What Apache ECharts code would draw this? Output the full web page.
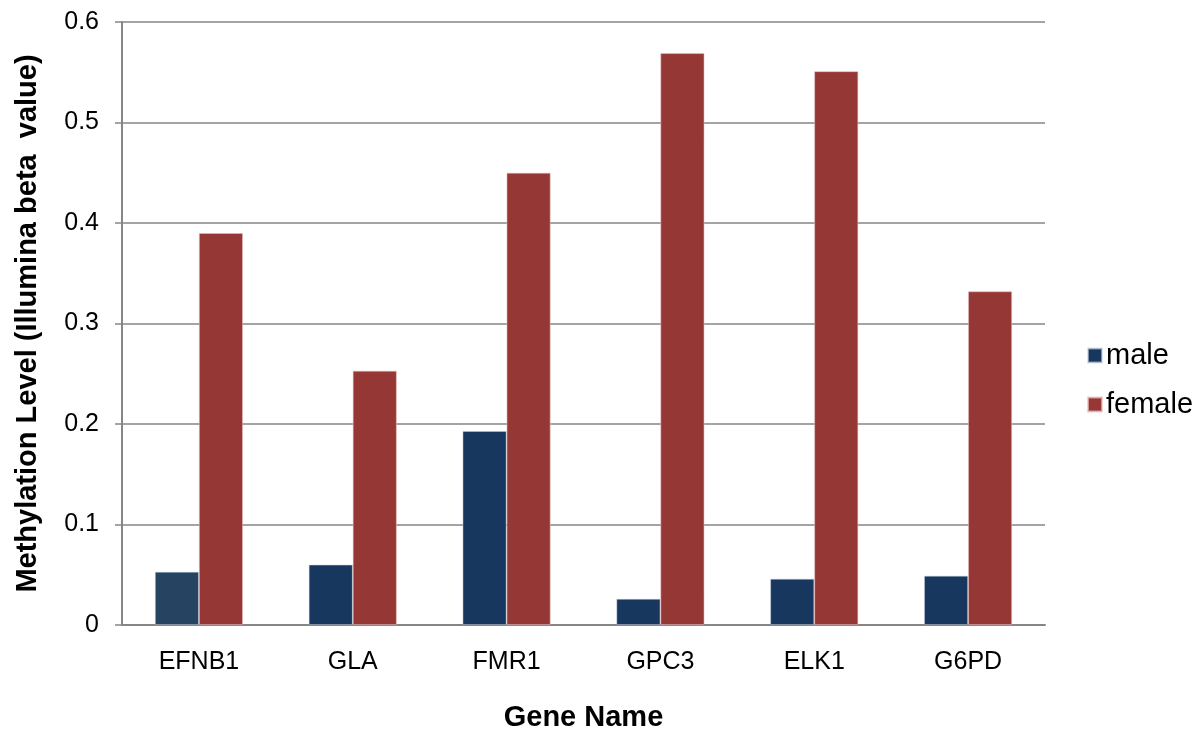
<!DOCTYPE html>
<html>
<head>
<meta charset="utf-8">
<script src="https://cdn.jsdelivr.net/npm/echarts@6/dist/echarts.min.js"></script>
<style>
  html, body { margin: 0; padding: 0; background: #fff; }
  #chart { width: 1203px; height: 732px; }
</style>
</head>
<body>
<div id="chart"></div>
<script>
// Gene categories and methylation levels (Illumina beta value)
const genes = ['EFNB1', 'GLA', 'FMR1', 'GPC3', 'ELK1', 'G6PD'];
const maleValues = [0.053, 0.060, 0.193, 0.026, 0.046, 0.049];
const femaleValues = [0.390, 0.253, 0.450, 0.569, 0.551, 0.332];

const FONT = '"Liberation Sans", Arial, sans-serif';
const AXIS_GREY = '#868686';

const chart = echarts.init(document.getElementById('chart'), null, { renderer: 'canvas' });

chart.setOption({
  animation: false,
  backgroundColor: '#ffffff',
  grid: {
    left: 122, right: 158, top: 22, bottom: 107,
    containLabel: false,
    outerBoundsMode: 'none'
  },
  legend: {
    orient: 'vertical',
    left: 1082,
    top: 336,
    itemWidth: 14,
    itemHeight: 14,
    itemGap: 20,
    icon: 'rect',
    textStyle: { fontFamily: FONT, fontSize: 29, color: '#000', padding: [0, 0, 0, -1] },
    data: ['male', 'female']
  },
  xAxis: {
    type: 'category',
    data: genes,
    name: 'Gene Name',
    nameLocation: 'middle',
    nameGap: 78,
    nameTextStyle: { fontFamily: FONT, fontSize: 29, fontWeight: 'bold', color: '#000' },
    axisLine: { show: true, lineStyle: { color: AXIS_GREY, width: 2 } },
    axisTick: { show: false },
    axisLabel: { fontFamily: FONT, fontSize: 25, color: '#000', margin: 25 }
  },
  yAxis: {
    type: 'value',
    min: 0,
    max: 0.6,
    interval: 0.1,
    name: 'Methylation Level (Illumina beta  value)',
    nameLocation: 'middle',
    nameGap: 80,
    nameTextStyle: { fontFamily: FONT, fontSize: 29, fontWeight: 'bold', color: '#000' },
    axisLine: { show: true, lineStyle: { color: AXIS_GREY, width: 2 } },
    axisTick: { show: true, length: 7, lineStyle: { color: AXIS_GREY, width: 1.5 } },
    axisLabel: {
      fontFamily: FONT, fontSize: 25, color: '#000', margin: 23,
      formatter: v => (v === 0 ? '0' : v.toFixed(1))
    },
    splitLine: { show: true, lineStyle: { color: AXIS_GREY, width: 1.5 } }
  },
  series: [
    {
      name: 'male',
      type: 'bar',
      data: maleValues.map((v, i) => i === 0
        ? { value: v, itemStyle: { color: '#274362' } }
        : v),
      barWidth: 44,
      barGap: '0%',
      itemStyle: { color: '#17375E', borderColor: 'rgba(200,210,225,0.6)', borderWidth: 0.8 }
    },
    {
      name: 'female',
      type: 'bar',
      data: femaleValues,
      barWidth: 44,
      barGap: '0%',
      itemStyle: { color: '#953735', borderColor: 'rgba(235,190,190,0.7)', borderWidth: 0.8 }
    }
  ]
});
</script>
</body>
</html>
